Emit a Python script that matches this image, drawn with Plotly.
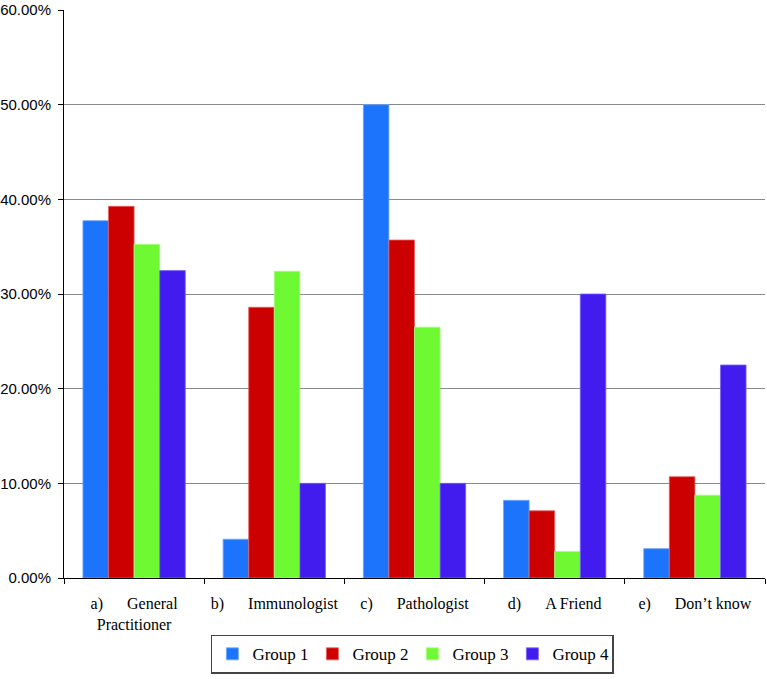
import plotly.graph_objects as go

NB = "\u00a0"
categories = [
    "a)" + NB * 6 + "General<br>Practitioner",
    "b)" + NB * 6 + "Immunologist",
    "c)" + NB * 6 + "Pathologist",
    "d)" + NB * 6 + "A Friend",
    "e)" + NB * 6 + "Don\u2019t know",
]
group1 = [0.3775, 0.041, 0.50, 0.082, 0.031]
group2 = [0.3926, 0.286, 0.357, 0.071, 0.107]
group3 = [0.3525, 0.324, 0.265, 0.028, 0.0875]
group4 = [0.3247, 0.100, 0.100, 0.300, 0.225]
series_names = ["Group 1", "Group 2", "Group 3", "Group 4"]
colors = ["#1c74fc", "#cc0000", "#6ff932", "#421cef"]
edges = ["#6ea6ff", "#e86060", "#a8ff80", "#7a60ff"]

fig = go.Figure()
for name, vals, c, e in zip(series_names, [group1, group2, group3, group4], colors, edges):
    fig.add_trace(go.Bar(x=categories, y=vals, name=name,
                         marker=dict(color=c, line=dict(color=e, width=0.8))))

fig.update_layout(
    width=767, height=679,
    margin=dict(l=64, r=2, t=10, b=101, autoexpand=False),
    paper_bgcolor="white", plot_bgcolor="white",
    barmode="group", bargap=0.27, bargroupgap=0,
    showlegend=True,
    legend=dict(orientation="h", x=0.497, xanchor="center", y=-0.1, yanchor="top",
                font=dict(family="Liberation Serif", size=17, color="black"),
                bordercolor="#444", borderwidth=1.5,
                entrywidth=55, entrywidthmode="pixels",
                traceorder="normal"),
    xaxis=dict(type="category", showline=True, linecolor="black", linewidth=1,
               ticks="outside", tickson="boundaries", ticklen=5, tickcolor="black",
               showgrid=False, automargin=False, ticklabelstandoff=11,
               tickfont=dict(family="Liberation Serif", size=16, color="black")),
    yaxis=dict(range=[0, 0.6], dtick=0.1, tickformat=".2%",
               showline=True, linecolor="black", linewidth=1,
               ticks="outside", ticklen=5, tickcolor="black",
               showgrid=True, gridcolor="#8a8a8a", gridwidth=1,
               zeroline=False, automargin=False, ticklabelstandoff=4,
               tickfont=dict(family="Liberation Sans", size=15, color="black")),
)

fig.write_html("out.html",
               config={"displayModeBar": False},
               post_script="document.body.style.margin='0';document.body.style.padding='0';")
